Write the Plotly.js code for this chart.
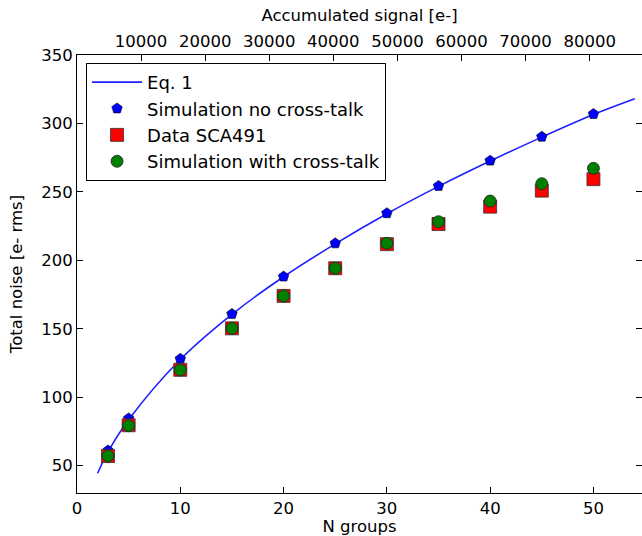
<!DOCTYPE html>
<html>
<head>
<meta charset="utf-8">
<script src="https://cdn.plot.ly/plotly-3.0.1.min.js"></script>
<style>html,body{margin:0;padding:0;background:#fff;}</style>
</head>
<body>
<div id="chart" style="width:642px;height:536px;"></div>
<script>
// Eq. 1 curve
const eqX = [2, 3, 5, 10, 15, 20, 25, 30, 35, 40, 45, 50, 54];
const eqY = [44.4, 60, 83.5, 127.5, 160.5, 188, 212, 234, 254, 272.5, 290, 306.5, 318];
// Markers
const nGroups = [3, 5, 10, 15, 20, 25, 30, 35, 40, 45, 50];
const simNoXtalk = [61, 84.5, 128, 160.8, 188.1, 212.4, 234.4, 254.3, 272.8, 290.3, 306.9];
const dataSCA491 = [57, 79.5, 120, 150.3, 174, 194.2, 211.8, 226.5, 239.2, 250.9, 259.3];
const simXtalk = [57.1, 79.2, 119.9, 150.3, 174, 194.2, 212.4, 228.2, 243.3, 256, 267.2];
// Top axis ticks
const signalTicks = [10000, 20000, 30000, 40000, 50000, 60000, 70000, 80000];
const signalLabels = ["10000", "20000", "30000", "40000", "50000", "60000", "70000", "80000"];
const yTicks = [50, 100, 150, 200, 250, 300, 350];
const xTicks = [0, 10, 20, 30, 40, 50];

const font = {family: "DejaVu Sans", size: 16.5, color: "#000"};
const legFont = {family: "DejaVu Sans", size: 18, color: "#000"};

const traces = [
  {x: eqX, y: eqY, mode: "lines", name: "Eq. 1", line: {color: "#1f1fff", width: 1.6, shape: "spline"}},
  {x: nGroups, y: simNoXtalk, mode: "markers", name: "Simulation no cross-talk",
   marker: {symbol: "pentagon", size: 11, color: "#0000ff", line: {color: "#000", width: 0.6}}},
  {x: nGroups, y: dataSCA491, mode: "markers", name: "Data SCA491",
   marker: {symbol: "square", size: 13, color: "#ff0000", line: {color: "#333", width: 0.8}}},
  {x: nGroups, y: simXtalk, mode: "markers", name: "Simulation with cross-talk",
   marker: {symbol: "circle", size: 12, color: "#008000", line: {color: "#222", width: 0.8}}},
  {x: [], y: [], xaxis: "x2", showlegend: false, hoverinfo: "skip"}
];

const layout = {
  width: 642, height: 536,
  margin: {l: 77, r: 0, t: 55, b: 43, pad: 0},
  paper_bgcolor: "#fff", plot_bgcolor: "#fff",
  font: font,
  showlegend: true,
  xaxis: {
    range: [0, 54.7], tickvals: xTicks, ticks: "inside", ticklen: 6, tickcolor: "#000",
    showline: true, linecolor: "#000", linewidth: 1, mirror: false,
    showgrid: false, zeroline: false, tickfont: font,
    title: {text: "N groups", font: font, standoff: 2}
  },
  xaxis2: {
    overlaying: "x", side: "top", anchor: "y",
    range: [0, 88160], tickvals: signalTicks, ticktext: signalLabels,
    ticks: "inside", ticklen: 6, tickcolor: "#000",
    showline: true, linecolor: "#000", linewidth: 1,
    showgrid: false, zeroline: false, tickfont: font,
    title: {text: "Accumulated signal [e-]", font: font, standoff: 6}
  },
  yaxis: {
    range: [30, 350], tickvals: yTicks, ticks: "inside", ticklen: 6, tickcolor: "#000",
    showline: true, linecolor: "#000", linewidth: 1, mirror: "ticks",
    showgrid: false, zeroline: false, tickfont: font,
    title: {text: "Total noise [e- rms]", font: font, standoff: 14}
  },
  legend: {
    x: 0.016, y: 0.982, xanchor: "left", yanchor: "top",
    bgcolor: "#fff", bordercolor: "#000", borderwidth: 1,
    font: legFont, itemwidth: 50, tracegroupgap: 0
  }
};

Plotly.newPlot("chart", traces, layout, {displayModeBar: false, staticPlot: true});
</script>
</body>
</html>
